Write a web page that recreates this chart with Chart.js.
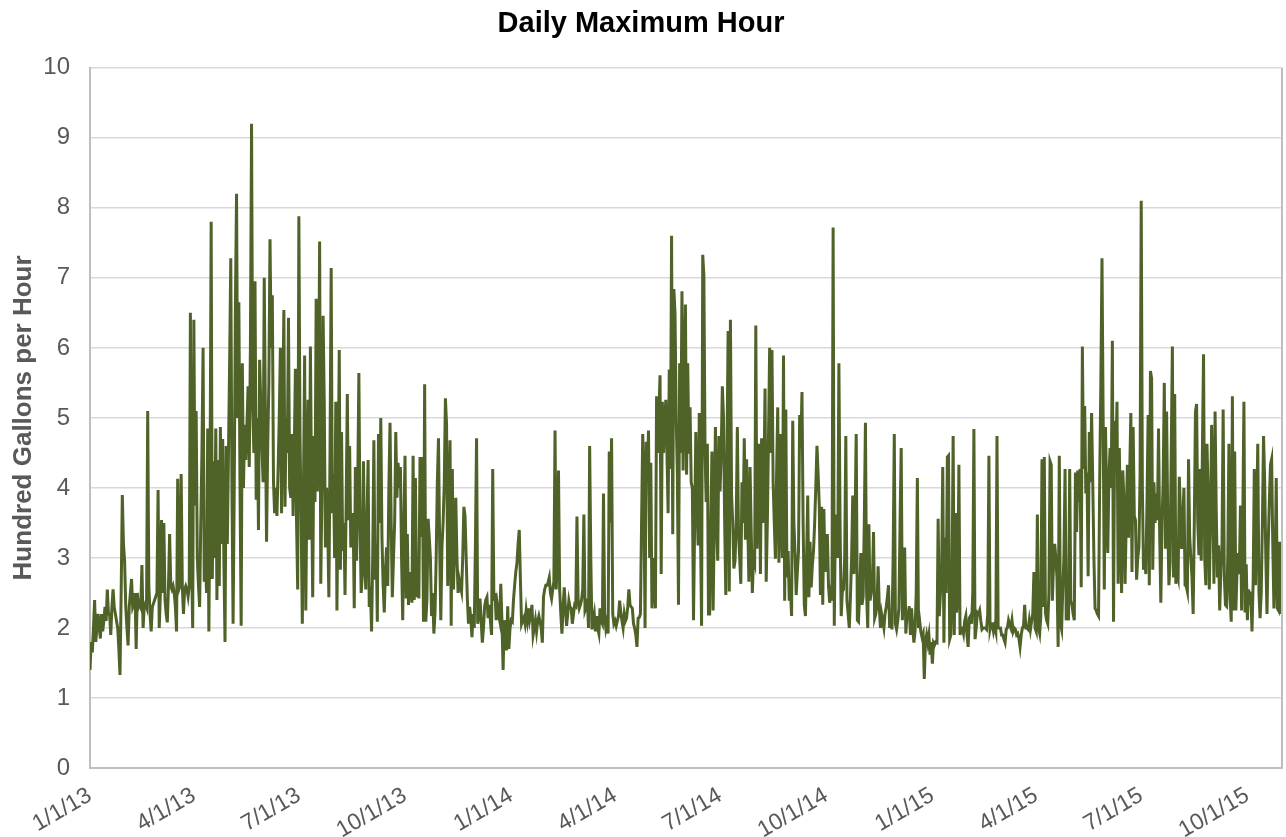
<!DOCTYPE html>
<html>
<head>
<meta charset="utf-8">
<title>Daily Maximum Hour</title>
<script src="https://cdn.jsdelivr.net/npm/chart.js@4.4.1/dist/chart.umd.min.js"></script>
<style>
  html, body { margin: 0; padding: 0; background: #fff; }
  #wrap { width: 1286px; height: 837px; }
</style>
</head>
<body>
<div id="wrap"><canvas id="grafico" width="1286" height="837"></canvas></div>
<script>
// daily max hour, hundred gallons per hour, one value per day from 1/1/13
const y2013 = [
  1.4, 1.8, 1.65, 2.0, 2.4, 1.8, 2.0, 2.2, 2.0, 1.85,
  2.2, 1.95, 2.1, 2.3, 2.1, 2.55, 2.2, 2.2, 1.9, 2.3,
  2.55, 2.3, 2.2, 2.1, 2.0, 1.7, 1.33, 2.5, 3.9, 3.2,
  2.95, 2.3, 2.0, 1.75, 2.3, 2.5, 2.7, 2.3, 2.35, 2.5,
  1.7, 2.5, 2.3, 2.35, 2.3, 2.9, 2.0, 2.3, 2.35, 2.3,
  5.1, 2.6, 2.2, 1.95, 2.3, 2.35, 2.4, 2.45, 2.5, 3.97,
  2.0, 2.5, 3.54, 2.5, 3.5, 2.4, 2.2, 2.08, 2.6, 3.34,
  2.6, 2.55, 2.6, 2.5, 2.3, 1.95, 4.13, 2.55, 2.6, 4.2,
  2.6, 2.2, 2.55, 2.6, 2.55, 2.45, 2.6, 6.5, 3.0, 2.0,
  6.4, 3.75, 5.1, 3.0, 2.6, 2.3, 3.5, 4.5, 6.0, 2.66,
  3.0, 2.5, 4.85, 1.95, 4.0, 7.8, 2.7, 4.38, 3.0, 4.85,
  2.4, 4.4, 2.6, 4.87, 3.2, 4.7, 3.0, 1.8, 4.6, 3.2,
  4.5, 5.8, 7.28, 4.0, 2.06, 4.0, 6.6, 8.2, 5.0, 6.65,
  4.0, 2.03, 5.78, 4.0, 4.9, 4.4, 4.9, 5.45, 4.3, 6.0,
  9.2, 5.2, 4.5, 6.95, 3.83, 5.0, 3.4, 5.83, 5.2, 4.6,
  4.08, 7.0, 5.0, 3.23, 4.6, 5.5, 7.55, 6.0, 6.75, 4.1,
  3.64, 4.0, 3.6, 4.25, 5.0, 6.0, 3.64, 5.0, 6.54, 3.73,
  5.0, 4.5, 6.43, 4.0, 3.86, 4.77, 3.6, 4.5, 5.7, 3.5,
  2.55, 7.88, 4.74, 3.5, 2.06, 4.0, 5.89, 2.25, 4.0, 5.26,
  3.26, 6.02, 4.0, 2.44, 4.74, 3.8, 6.7, 3.95, 5.0, 7.52,
  2.63, 4.0, 6.46, 5.23, 3.15, 4.0, 3.5, 2.44, 4.5, 7.14,
  3.64, 4.2, 3.0, 5.23, 2.25, 4.0, 5.97, 2.83, 4.8, 3.1,
  3.5, 2.47, 3.8, 5.34, 3.54, 4.6, 3.15, 3.3, 3.64, 2.28,
  4.3, 2.96, 4.0, 5.64, 3.5, 2.5, 2.77, 4.38, 3.0, 2.55,
  3.5, 4.4, 2.3, 2.6, 1.95, 3.0, 4.68, 2.69, 3.2, 2.09,
  4.77, 3.5, 5.0, 3.3, 2.63, 2.22, 2.8, 3.15, 2.6, 4.0,
  4.93, 3.5, 2.44, 3.0, 3.5, 4.8, 3.86, 4.36, 4.0, 4.3,
  3.0, 2.11, 3.5, 4.46, 2.42, 3.34, 2.33, 2.8, 2.63, 2.36,
  4.46, 2.4, 4.14, 2.44, 2.8, 2.42, 4.44, 3.3, 4.44, 2.09,
  5.48, 2.09, 2.4, 3.56, 3.3, 3.0, 2.17, 2.5, 1.92, 2.22,
  3.0, 4.08, 4.71, 3.2, 2.11, 3.15, 3.5, 4.05, 5.28, 4.9,
  2.6, 3.6, 4.68, 2.03, 4.27, 2.55, 3.2, 3.86, 3.0, 2.5,
  2.69, 2.6, 2.52, 3.0, 3.73, 3.6, 3.0, 2.42, 2.06, 2.3,
  2.14, 1.87, 2.2, 2.0, 3.2, 4.71, 2.06, 2.2, 2.42, 2.1,
  1.79, 2.0, 2.31, 2.4, 2.44, 2.14, 2.33, 2.1, 1.9, 4.27,
  2.39, 2.5, 2.11, 2.33, 2.2, 2.11, 2.63, 2.09, 1.4, 2.11,
  2.0, 1.68, 2.31, 1.7, 2.0
];

const y2014 = [
  2.11, 2.09, 2.4, 2.61, 2.8, 2.93, 3.2, 3.4, 2.69, 2.06,
  2.11, 2.15, 2.06, 2.25, 2.11, 2.28, 2.11, 2.2, 2.33, 1.9,
  2.0, 2.11, 1.95, 2.1, 2.17, 2.09, 2.0, 1.79, 2.44, 2.55,
  2.61, 2.61, 2.65, 2.72, 2.5, 2.42, 2.55, 2.66, 4.82, 2.55,
  3.0, 4.25, 2.55, 2.2, 1.92, 2.3, 2.58, 2.28, 2.03, 2.2,
  2.39, 2.3, 2.28, 2.06, 2.2, 2.33, 2.31, 3.59, 2.4, 2.28,
  2.33, 2.4, 2.55, 3.62, 2.25, 2.3, 2.42, 2.0, 4.6, 3.0,
  1.98, 2.1, 2.2, 1.95, 2.17, 2.0, 1.92, 2.28, 2.1, 2.06,
  3.92, 2.17, 2.0, 2.1, 1.92, 4.52, 3.5, 4.71, 2.2, 2.06,
  2.1, 2.03, 2.1, 2.17, 2.39, 2.22, 2.1, 2.0, 2.2, 2.1,
  2.14, 2.3, 2.55, 2.33, 2.3, 2.28, 2.06, 2.0, 1.9, 1.73,
  2.14, 2.15, 2.2, 3.5, 4.77, 3.97, 2.0, 4.66, 4.14, 4.82,
  3.0, 4.36, 2.28, 3.0, 2.6, 2.28, 5.31, 4.5, 5.07, 5.61,
  2.77, 5.23, 4.5, 4.9, 5.26, 4.5, 3.64, 5.69, 4.27, 7.6,
  3.34, 6.84, 6.48, 5.0, 4.22, 2.33, 5.78, 4.5, 6.81, 4.25,
  5.5, 6.62, 4.19, 5.78, 4.49, 5.15, 4.08, 4.0, 2.11, 3.5,
  4.8, 3.81, 3.18, 5.07, 3.5, 2.03, 7.33, 7.03, 4.52, 3.8,
  4.63, 2.2, 2.2, 3.5, 4.52, 2.25, 3.5, 4.87, 3.5, 2.96,
  4.74, 3.95, 4.5, 5.45, 5.01, 3.5, 2.47, 4.5, 6.24, 2.52,
  6.4, 3.89, 3.5, 2.85, 2.96, 3.5, 4.87, 3.37, 3.0, 2.63,
  4.08, 3.5, 4.71, 3.26, 4.41, 3.5, 2.66, 4.3, 3.4, 2.5,
  3.0, 2.93, 6.32, 3.13, 3.8, 4.63, 2.77, 4.71, 3.5, 4.08,
  5.42, 2.66, 3.5, 4.74, 6.0, 4.5, 5.97, 4.08, 3.5, 2.99,
  4.19, 5.15, 2.93, 4.77, 3.5, 3.0, 5.89, 2.39, 5.12, 2.72,
  3.1, 2.39, 2.55, 2.17, 4.96, 3.5, 3.07, 2.47, 2.8, 3.1,
  5.04, 4.57, 5.37, 3.5, 2.33, 2.17, 3.0, 3.89, 2.44, 3.23,
  2.58, 2.9, 3.1, 3.5, 4.03, 4.6, 4.2, 3.75, 2.47, 3.73,
  2.33, 3.7, 2.8, 3.0, 3.34, 2.6, 2.36, 2.5, 2.39, 7.72,
  2.03, 3.62, 3.3, 3.0, 5.78, 3.5, 2.17, 2.52, 2.55, 3.0,
  4.74, 2.39, 2.2, 2.0, 2.44, 3.0, 3.89, 2.77, 3.5, 4.77,
  2.11, 2.09, 2.5, 3.07, 2.33, 2.44, 3.5, 4.93, 2.5, 2.0,
  3.48, 2.39, 2.5, 2.63, 3.37, 2.14, 2.2, 2.33, 2.88, 2.3,
  2.0, 2.2, 2.1, 2.0, 2.2, 2.3, 2.44, 2.61, 2.0, 2.17,
  1.98, 3.0, 4.77, 2.06, 1.98, 2.1, 2.28, 3.5, 4.57, 2.11,
  2.5, 3.15, 1.92, 2.17, 2.2, 2.31, 1.9, 2.28, 2.0, 1.79,
  1.95, 2.5, 4.14, 2.0, 2.1, 1.95, 1.87, 1.92, 1.27, 1.8,
  1.9, 1.79, 1.9, 1.62, 1.8
];

const y2015 = [
  1.49, 1.79, 1.76, 1.8, 1.79, 3.56, 2.17, 2.5, 2.77, 4.3,
  1.79, 3.29, 2.5, 4.44, 4.46, 1.84, 1.9, 2.5, 4.74, 1.9,
  3.64, 2.22, 2.5, 4.33, 1.9, 2.0, 2.0, 1.92, 2.1, 2.17,
  1.9, 1.73, 2.14, 2.17, 2.06, 2.5, 4.84, 1.84, 2.0, 2.22,
  2.2, 2.25, 2.1, 1.98, 2.0, 2.0, 2.0, 1.98, 2.2, 4.46,
  1.98, 2.06, 2.06, 1.95, 2.03, 1.95, 4.74, 2.0, 2.0, 2.0,
  1.9, 1.9, 1.84, 1.79, 1.98, 2.0, 2.11, 2.05, 2.0, 2.11,
  1.95, 2.0, 1.98, 1.9, 1.92, 1.85, 1.73, 1.9, 2.0, 2.03,
  2.33, 2.0, 2.0, 1.98, 2.11, 1.98, 2.1, 2.2, 2.8, 2.0,
  1.95, 3.62, 2.0, 1.92, 2.17, 4.41, 2.3, 4.44, 2.22, 2.11,
  2.06, 2.5, 4.38, 4.33, 2.39, 2.91, 3.2, 3.0, 2.72, 1.73,
  4.46, 2.06, 1.98, 2.55, 3.0, 4.27, 2.11, 2.31, 2.11, 4.27,
  2.39, 2.33, 2.2, 2.11, 4.22, 3.37, 4.25, 3.8, 4.27, 2.58,
  6.02, 4.27, 5.17, 3.92, 4.22, 2.74, 4.8, 4.08, 5.07, 4.08,
  3.0, 2.28, 2.25, 2.2, 2.17, 4.08, 5.5, 7.28, 5.01, 2.55,
  4.87, 4.0, 3.07, 4.14, 4.57, 4.0, 6.1, 2.09, 4.96, 4.46,
  5.23, 2.63, 4.57, 3.5, 2.5, 4.25, 3.84, 2.63, 3.5, 4.33,
  3.29, 4.2, 5.07, 2.8, 4.87, 3.6, 3.54, 2.69, 3.0, 3.15,
  4.16, 8.1, 4.0, 2.83, 3.0, 2.77, 3.8, 5.04, 2.61, 5.67,
  5.56, 2.83, 4.08, 3.5, 3.92, 3.54, 4.85, 3.32, 2.36, 3.5,
  4.08, 5.5, 3.13, 5.09, 3.5, 2.61, 2.93, 4.5, 6.02, 2.72,
  5.34, 2.63, 2.8, 2.72, 4.16, 3.64, 3.13, 3.5, 4.0, 2.61,
  2.6, 2.52, 4.41, 3.3, 3.0, 2.72, 2.2, 3.5, 5.09, 5.2,
  3.5, 3.04, 4.27, 2.96, 4.5, 5.91, 3.0, 2.61, 4.63, 3.89,
  2.55, 3.5, 4.9, 4.0, 2.63, 5.09, 3.7, 2.72, 3.18, 2.25,
  2.8, 3.18, 5.12, 2.74, 2.33, 2.31, 3.0, 4.63, 2.44, 2.09,
  5.31, 2.25, 4.52, 2.25, 2.8, 3.07, 2.77, 3.75, 2.25, 3.5,
  5.23, 2.22, 2.91, 2.11, 2.55, 2.33, 2.52, 1.95, 2.66, 4.27,
  2.61, 3.5, 4.63, 2.52, 2.14, 2.5, 3.5, 4.74, 4.08, 3.0,
  2.2, 3.15, 3.8, 4.33, 4.41, 3.21, 2.28, 2.8, 4.14, 2.28,
  2.25, 3.23, 2.2
];

// quarter starts, counted in days from 1/1/13
const tickDays = [0, 90, 181, 273, 365, 455, 546, 638, 730, 820, 911, 1003];
const tickLabels = ['1/1/13', '4/1/13', '7/1/13', '10/1/13', '1/1/14', '4/1/14',
  '7/1/14', '10/1/14', '1/1/15', '4/1/15', '7/1/15', '10/1/15'];

const valores = y2013.concat(y2014, y2015);
const pontos = valores.map((v, i) => ({ x: i, y: v }));

const fonte = "'Liberation Sans', Arial, sans-serif";
const cinza = '#595959';

// right edge of the plot frame
const bordaDireita = {
  id: 'bordaDireita',
  afterDraw(chart) {
    const { ctx, chartArea } = chart;
    ctx.save();
    ctx.strokeStyle = '#bfbfbf';
    ctx.lineWidth = 2;
    ctx.beginPath();
    ctx.moveTo(chartArea.right, chartArea.top);
    ctx.lineTo(chartArea.right, chartArea.bottom);
    ctx.stroke();
    ctx.restore();
  }
};

const ctx = document.getElementById('grafico').getContext('2d');
new Chart(ctx, {
  type: 'line',
  data: {
    datasets: [{
      data: pontos,
      borderColor: '#4f6228',
      borderWidth: 3,
      pointRadius: 0,
      tension: 0,
      fill: false
    }]
  },
  options: {
    responsive: false,
    animation: false,
    devicePixelRatio: 1,
    parsing: false,
    layout: { padding: { left: 0, right: 4, top: 0, bottom: 0 } },
    plugins: {
      legend: { display: false },
      tooltip: { enabled: false },
      title: {
        display: true,
        text: 'Daily Maximum Hour',
        color: '#000',
        font: { family: fonte, size: 29, weight: 'bold' },
        padding: { top: 7, bottom: 26 }
      }
    },
    scales: {
      x: {
        type: 'linear',
        min: 0,
        max: 1033,
        afterBuildTicks: s => { s.ticks = tickDays.map(v => ({ value: v })); },
        afterFit: s => { s.height = 69; },
        grid: { display: false },
        border: { color: '#bfbfbf', width: 2 },
        ticks: {
          autoSkip: false,
          minRotation: 30,
          maxRotation: 30,
          padding: 6,
          color: cinza,
          font: { family: fonte, size: 23 },
          callback: v => tickLabels[tickDays.indexOf(v)]
        }
      },
      y: {
        min: 0,
        max: 10,
        afterFit: s => { s.width = 90; },
        grid: { color: '#d9d9d9', lineWidth: 1.5, drawTicks: false },
        border: { color: '#bfbfbf', width: 2 },
        ticks: {
          stepSize: 1,
          padding: 20,
          color: cinza,
          font: { family: fonte, size: 24 }
        },
        title: {
          display: true,
          text: 'Hundred Gallons per Hour',
          color: cinza,
          font: { family: fonte, size: 26, weight: 'bold' },
          padding: { top: 8, bottom: 0 }
        }
      }
    }
  },
  plugins: [bordaDireita]
});
</script>
</body>
</html>
